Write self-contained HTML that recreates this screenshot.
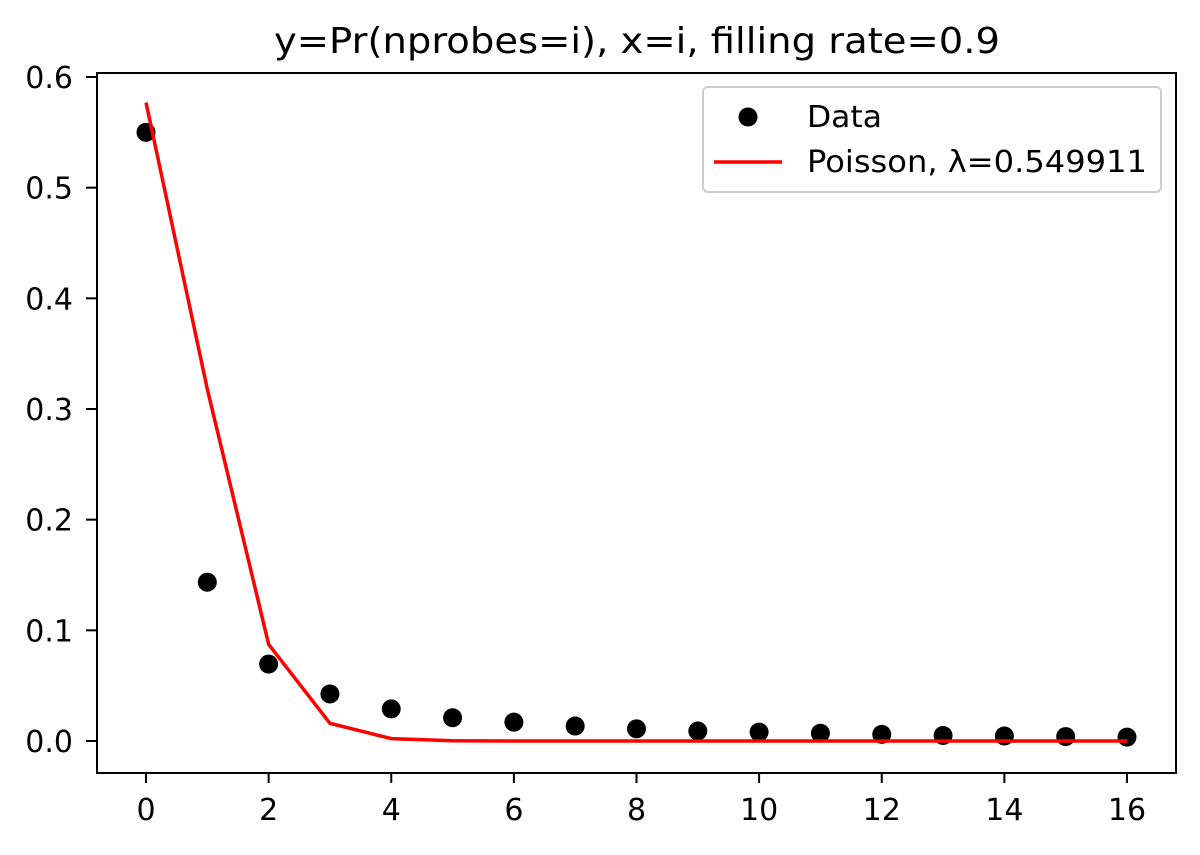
<!DOCTYPE html>
<html><head><meta charset="utf-8"><style>
body{margin:0;background:#fff}
svg text{font-family:"DejaVu Sans","Liberation Sans",sans-serif;fill:#000}
</style></head><body>
<svg id="chart" width="1200" height="850" xmlns="http://www.w3.org/2000/svg">
<text x="637" y="53" font-size="36" text-anchor="middle" textLength="726" lengthAdjust="spacingAndGlyphs">y=Pr(nprobes=i), x=i, filling rate=0.9</text>
<g id="grid"></g>
<g id="marks"></g>
<rect x="97" y="73" width="1079" height="700" fill="none" stroke="#000" stroke-width="2"/>
<g>
<rect x="703" y="87" width="458" height="105" rx="5" fill="#fff" fill-opacity="0.8" stroke="#ccc" stroke-width="2"/>
<circle cx="748" cy="117" r="9.5" fill="#000"/>
<text x="807" y="127" font-size="30" textLength="75" lengthAdjust="spacingAndGlyphs">Data</text>
<line x1="714" y1="162" x2="782" y2="162" stroke="#f00" stroke-width="3.5"/>
<text x="807" y="172" font-size="30" textLength="340" lengthAdjust="spacingAndGlyphs">Poisson, λ=0.549911</text>
</g>
</svg>
<script>
const xVals=[0,1,2,3,4,5,6,7,8,9,10,11,12,13,14,15,16];
const dataVals=[0.550,0.1435,0.0695,0.0425,0.029,0.021,0.017,0.0135,0.011,0.009,0.008,0.007,0.006,0.005,0.0045,0.004,0.0035];
const poissonVals=[0.577,0.318,0.0874,0.016,0.0022,0.00024,0.00002,0,0,0,0,0,0,0,0,0,0];
const xTicks=[0,2,4,6,8,10,12,14,16];
const yTicks=[0.0,0.1,0.2,0.3,0.4,0.5,0.6];
const NS="http://www.w3.org/2000/svg";
const X=v=>146+v*(1127-146)/16;
const Y=v=>741-v*(741-77)/0.6;
const g=document.getElementById('grid'),m=document.getElementById('marks');
function mk(t,a,p){const e=document.createElementNS(NS,t);for(const k in a)e.setAttribute(k,a[k]);p.appendChild(e);return e;}
xTicks.forEach(v=>{
 const l=mk('line',{x1:X(v),x2:X(v),y1:773,y2:783,stroke:'#000','stroke-width':2},g);
 
 
 const t=mk('text',{x:X(v),y:820,'font-size':30,'text-anchor':'middle'},g);t.textContent=v;
 
 
});
yTicks.forEach(v=>{
 const l=mk('line',{x1:86,x2:97,y1:Y(v),y2:Y(v),stroke:'#000','stroke-width':2},g);
 
 
 const t=mk('text',{x:73,y:Y(v)+11,'font-size':30,'text-anchor':'end'},g);t.textContent=v.toFixed(1);
 
 
});
xVals.forEach((x,i)=>{
 const c=mk('circle',{cx:X(x),cy:Y(dataVals[i]),r:9.5,fill:'#000'},m);
 
 
});
const pl=mk('polyline',{points:xVals.map((x,i)=>X(x)+','+Y(poissonVals[i])).join(' '),fill:'none',stroke:'#f00','stroke-width':3.5,'stroke-linejoin':'round'},m);


</script>
</body></html>
